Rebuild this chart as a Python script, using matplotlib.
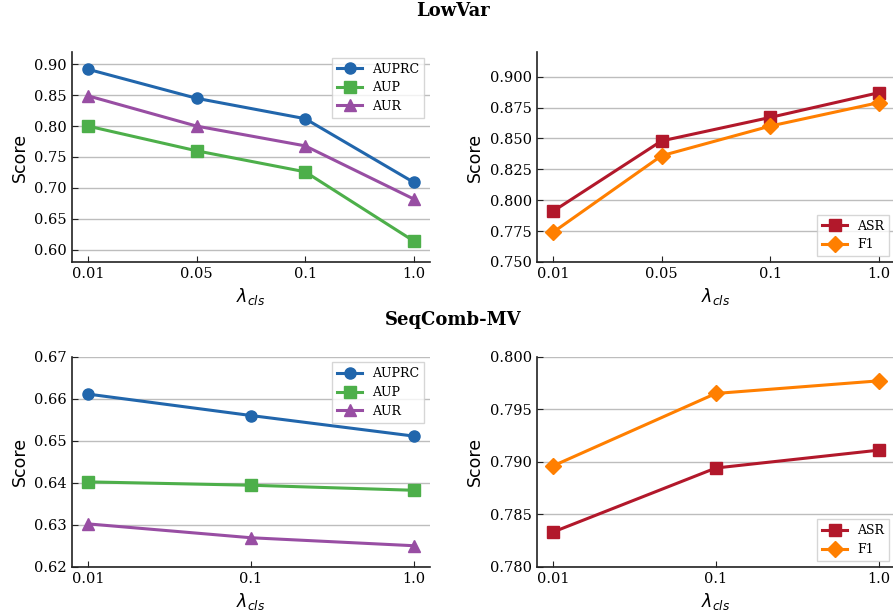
import numpy as np
import matplotlib
matplotlib.use('Agg')
import matplotlib.pyplot as plt

plt.rcParams['font.family'] = 'DejaVu Serif'
plt.rcParams['mathtext.fontset'] = 'dejavusans'

# LowVar
lv_x = ['0.01', '0.05', '0.1', '1.0']
lv_auprc = [0.892, 0.845, 0.812, 0.709]
lv_aup = [0.800, 0.760, 0.726, 0.614]
lv_aur = [0.849, 0.800, 0.768, 0.682]
lv_asr = [0.791, 0.848, 0.867, 0.887]
lv_f1 = [0.774, 0.836, 0.860, 0.879]

# SeqComb-MV
sc_x = ['0.01', '0.1', '1.0']
sc_auprc = [0.6611, 0.6560, 0.6511]
sc_aup = [0.6402, 0.6394, 0.6382]
sc_aur = [0.6302, 0.6269, 0.6250]
sc_asr = [0.7833, 0.7894, 0.7911]
sc_f1 = [0.7896, 0.7965, 0.7977]

c_blue = '#2166ac'
c_green = '#4daf4a'
c_purple = '#984ea3'
c_red = '#b2182b'
c_orange = '#ff7f00'

fig = plt.figure(figsize=(8.93, 6.15), dpi=100)
w, h = 0.4012, 0.3415
ax1 = fig.add_axes([0.0803, 0.574, w, h])
ax2 = fig.add_axes([0.601, 0.574, w, h])
ax3 = fig.add_axes([0.0803, 0.0785, w, h])
ax4 = fig.add_axes([0.601, 0.0785, w, h])

def style(ax, labels, ylim, yticks, fmt):
    ax.set_xticks(range(len(labels)))
    ax.set_xticklabels(labels)
    m = 0.15 if len(labels) == 4 else 0.1
    ax.set_xlim(-m, len(labels) - 1 + m)
    ax.set_ylim(*ylim)
    ax.set_yticks(yticks)
    ax.set_yticklabels([fmt % v for v in yticks])
    ax.grid(axis='y', color='#bdbdbd', linewidth=1.0)
    ax.set_axisbelow(True)
    for s in ['top', 'right']:
        ax.spines[s].set_visible(False)
    for s in ['left', 'bottom']:
        ax.spines[s].set_color('#222222')
        ax.spines[s].set_linewidth(1.2)
    ax.tick_params(direction='in', labelsize=10.5, length=4, color='#222222')
    ax.set_xlabel(r'$\lambda_{cls}$', fontfamily='DejaVu Sans', fontsize=12.5)
    ax.set_ylabel('Score', fontfamily='DejaVu Sans', fontsize=12.5)

def leg(ax, loc):
    ax.legend(loc=loc, fontsize=9, fancybox=False, edgecolor='#cccccc',
              labelspacing=0.45, borderaxespad=0.45)

kw = dict(linewidth=2.2, markersize=8)
xs = range(len(lv_x))
ax1.plot(xs, lv_auprc, '-o', color=c_blue, label='AUPRC', **kw)
ax1.plot(xs, lv_aup, '-s', color=c_green, label='AUP', **kw)
ax1.plot(xs, lv_aur, '-^', color=c_purple, label='AUR', **kw)
style(ax1, lv_x, (0.58, 0.92), np.arange(0.60, 0.901, 0.05), '%.2f')
leg(ax1, 'upper right')

ax2.plot(xs, lv_asr, '-s', color=c_red, label='ASR', **kw)
ax2.plot(xs, lv_f1, '-D', color=c_orange, label='F1', **kw)
style(ax2, lv_x, (0.75, 0.92), np.arange(0.75, 0.901, 0.025), '%.3f')
leg(ax2, 'lower right')

xs = range(len(sc_x))
ax3.plot(xs, sc_auprc, '-o', color=c_blue, label='AUPRC', **kw)
ax3.plot(xs, sc_aup, '-s', color=c_green, label='AUP', **kw)
ax3.plot(xs, sc_aur, '-^', color=c_purple, label='AUR', **kw)
style(ax3, sc_x, (0.62, 0.67), np.arange(0.62, 0.6701, 0.01), '%.2f')
leg(ax3, 'upper right')

ax4.plot(xs, sc_asr, '-s', color=c_red, label='ASR', **kw)
ax4.plot(xs, sc_f1, '-D', color=c_orange, label='F1', **kw)
style(ax4, sc_x, (0.78, 0.80), np.arange(0.78, 0.8001, 0.005), '%.3f')
leg(ax4, 'lower right')

fig.text(0.507, 0.974, 'LowVar', ha='center', va='baseline', fontsize=13, fontweight='bold')
fig.text(0.507, 0.4715, 'SeqComb-MV', ha='center', va='baseline', fontsize=13, fontweight='bold')

fig.savefig('out.png', dpi=100)
